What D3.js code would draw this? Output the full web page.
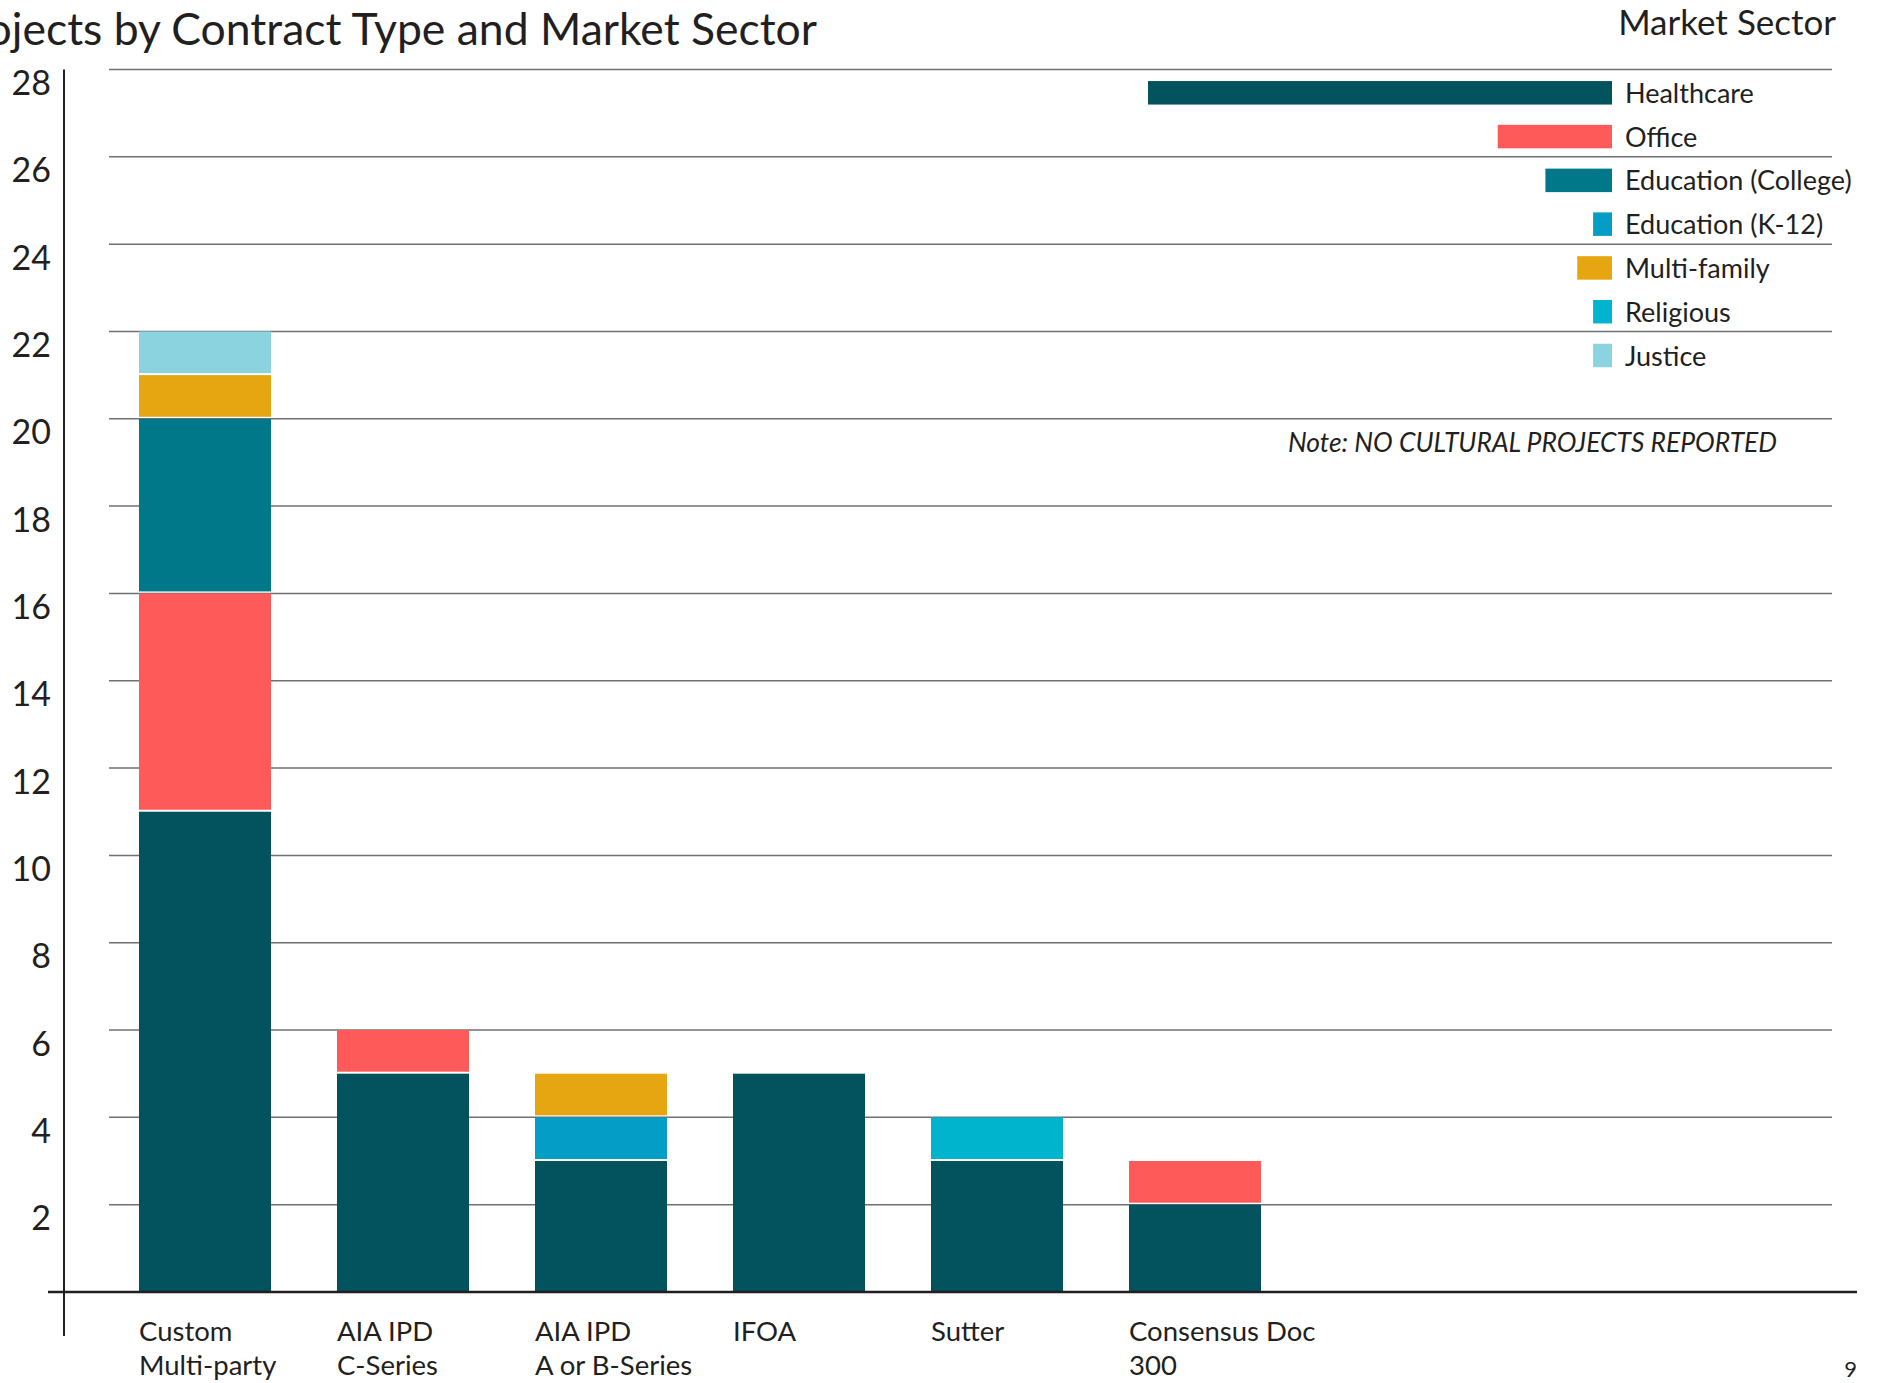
<!DOCTYPE html>
<html>
<head>
<meta charset="utf-8">
<script src="https://cdn.jsdelivr.net/npm/d3@7"></script>
<style>
  body { margin: 0; background: #fff; }
  text { font-family: Lato, "Open Sans", sans-serif; fill: #231f20; }
</style>
</head>
<body>
<div id="chart"></div>
<script>
// Chart data
var categories = [
  ["Custom", "Multi-party"],
  ["AIA IPD", "C-Series"],
  ["AIA IPD", "A or B-Series"],
  ["IFOA"],
  ["Sutter"],
  ["Consensus Doc", "300"]
];
var sectors = ["Healthcare", "Office", "Education (College)", "Education (K-12)", "Multi-family", "Religious", "Justice"];
var sectorColors = ["#02535e", "#ff5a5a", "#00788a", "#049dc5", "#e6a612", "#00b4cd", "#8bd3de"];

var healthcare  = [11, 5, 3, 5, 3, 2];
var office      = [5, 1, 0, 0, 0, 1];
var eduCollege  = [4, 0, 0, 0, 0, 0];
var eduK12      = [0, 0, 1, 0, 0, 0];
var multiFamily = [1, 0, 1, 0, 0, 0];
var religious   = [0, 0, 0, 0, 1, 0];
var justice     = [1, 0, 0, 0, 0, 0];

var yTicks = [2, 4, 6, 8, 10, 12, 14, 16, 18, 20, 22, 24, 26, 28];

var titleText = "Projects by Contract Type and Market Sector";
var legendTitle = "Market Sector";
var noteText = "Note: NO CULTURAL PROJECTS REPORTED";
var pageNumber = "9";

// SVG area
var svgWidth = 1879;
var svgHeight = 1383;

var svg = d3.select("#chart")
  .append("svg")
  .attr("width", svgWidth)
  .attr("height", svgHeight);

// build table rows for the stack
var series = [healthcare, office, eduCollege, eduK12, multiFamily, religious, justice];
var table = categories.map(function (c, i) {
  var row = { key: i };
  sectors.forEach(function (s, j) { row[s] = series[j][i]; });
  return row;
});

var stacked = d3.stack().keys(sectors)(table);

// scales
var x = d3.scaleBand()
  .domain(d3.range(categories.length))
  .range([106, 106 + 198 * 6])
  .paddingInner(1 / 3)
  .paddingOuter(1 / 6);

var y = d3.scaleLinear()
  .domain([0, 28])
  .range([1292, 69.5]);

var color = d3.scaleOrdinal().domain(sectors).range(sectorColors);

// gridlines
svg.append("g")
  .selectAll("line")
  .data(yTicks)
  .enter()
  .append("line")
  .attr("x1", 109)
  .attr("x2", 1832)
  .attr("y1", function (d) { return y(d); })
  .attr("y2", function (d) { return y(d); })
  .attr("stroke", "#707070")
  .attr("stroke-width", 1.5);

// y tick labels (hang below gridline)
var yAxis = d3.axisLeft(y).tickValues(yTicks).tickSize(0).tickPadding(0);
var yg = svg.append("g")
  .attr("transform", "translate(51,0)")
  .call(yAxis);
yg.select(".domain").remove();
yg.selectAll("text")
  .attr("dy", null)
  .attr("y", 25)
  .style("font-size", "34px")
  .style("font-family", "Lato, sans-serif")
  .attr("fill", "#231f20");

// bars
svg.append("g")
  .selectAll("g")
  .data(stacked)
  .enter()
  .append("g")
  .attr("fill", function (d) { return color(d.key); })
  .selectAll("rect")
  .data(function (d) { return d; })
  .enter()
  .filter(function (d) { return d[1] - d[0] > 0; })
  .append("rect")
  .attr("x", function (d) { return x(d.data.key); })
  .attr("width", x.bandwidth())
  .attr("y", function (d) { return y(d[1]); })
  .attr("height", function (d) {
    var gap = d[0] > 0 ? 2 : 0;
    return y(d[0]) - y(d[1]) - gap;
  });

// axis lines
svg.append("line")
  .attr("x1", 64).attr("x2", 64)
  .attr("y1", y(28)).attr("y2", 1336)
  .attr("stroke", "#231f20").attr("stroke-width", 2);

svg.append("line")
  .attr("x1", 48).attr("x2", 1857)
  .attr("y1", y(0)).attr("y2", y(0))
  .attr("stroke", "#231f20").attr("stroke-width", 2.5);

// category labels
var catLabels = svg.append("g")
  .selectAll("text")
  .data(categories)
  .enter()
  .append("text")
  .attr("x", function (d, i) { return x(i); })
  .attr("y", 1341)
  .style("font-size", "27.5px");

catLabels.selectAll("tspan")
  .data(function (d) { return d; })
  .enter()
  .append("tspan")
  .attr("x", function () { return d3.select(this.parentNode).attr("x"); })
  .attr("dy", function (d, i) { return i === 0 ? 0 : 34; })
  .text(function (d) { return d; });

// title (cut off at the left edge, as in the source page)
svg.append("text")
  .attr("x", 817)
  .attr("y", 45)
  .attr("text-anchor", "end")
  .style("font-size", "44.5px")
  .text(titleText);

svg.append("text")
  .attr("x", 1836)
  .attr("y", 35)
  .attr("text-anchor", "end")
  .style("font-size", "35px")
  .text(legendTitle);

// legend - swatch width follows sector totals
var totals = sectors.map(function (s, j) { return d3.sum(series[j]); });
var legendW = d3.scaleLinear().domain([0, d3.max(totals)]).range([3, 464]);
var legendY = d3.scalePoint().domain(sectors).range([92.8, 355.5]);

var legend = svg.append("g")
  .selectAll("g")
  .data(sectors)
  .enter()
  .append("g")
  .attr("transform", function (d) { return "translate(0," + legendY(d) + ")"; });

legend.append("rect")
  .attr("x", function (d, i) { return 1612 - legendW(totals[i]); })
  .attr("y", -11.75)
  .attr("width", function (d, i) { return legendW(totals[i]); })
  .attr("height", 23.5)
  .attr("fill", function (d) { return color(d); });

legend.append("text")
  .attr("x", 1625)
  .attr("y", 10)
  .style("font-size", "27px")
  .text(function (d) { return d; });

// note
svg.append("text")
  .attr("x", 1288)
  .attr("y", 452)
  .attr("textLength", 489)
  .attr("lengthAdjust", "spacingAndGlyphs")
  .style("font-size", "27px")
  .style("font-style", "italic")
  .text(noteText);

// page number
svg.append("text")
  .attr("x", 1857)
  .attr("y", 1377)
  .attr("text-anchor", "end")
  .style("font-size", "22px")
  .text(pageNumber);
</script>
</body>
</html>
